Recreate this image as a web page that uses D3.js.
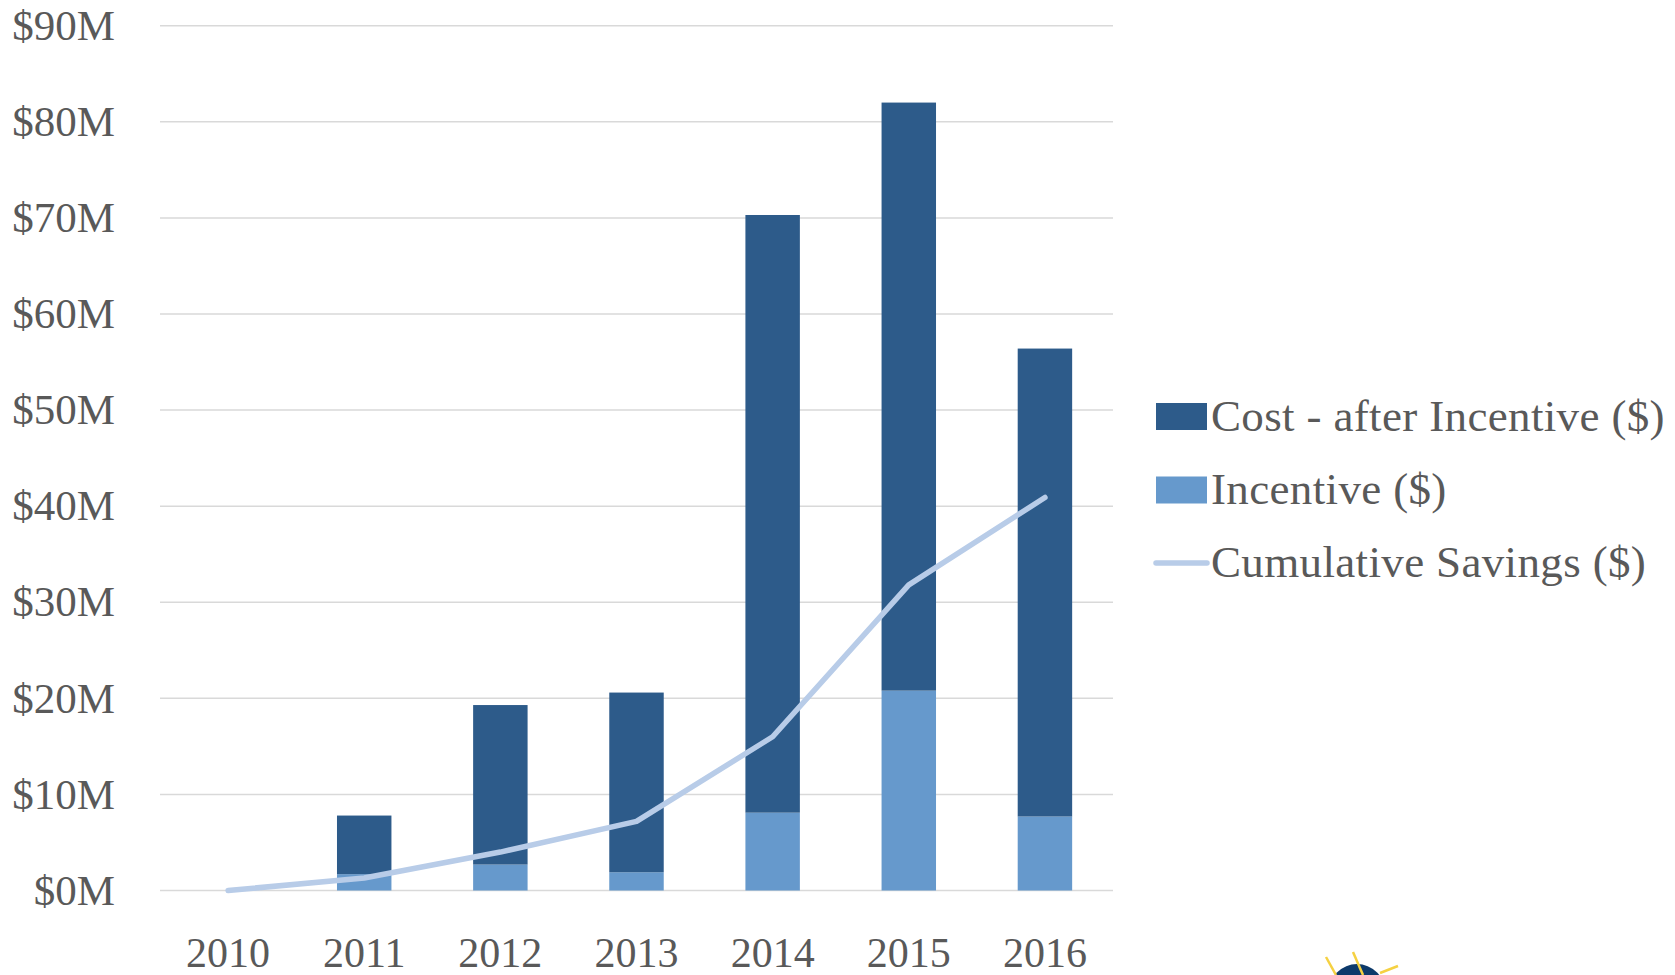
<!DOCTYPE html>
<html>
<head>
<meta charset="utf-8">
<script src="https://cdn.jsdelivr.net/npm/d3@7/dist/d3.min.js"></script>
<style>
  html, body { margin: 0; padding: 0; background: #ffffff; }
  svg { display: block; }
</style>
</head>
<body>
<svg id="chart" width="1675" height="975"></svg>
<script>
// ---- data (values in $M) ----
const years = ["2010", "2011", "2012", "2013", "2014", "2015", "2016"];
const incentive = [0, 1.7, 2.7, 1.9, 8.1, 20.8, 7.7];
const costAfterIncentive = [0, 6.1, 16.6, 18.7, 62.2, 61.2, 48.7];
const cumulativeSavings = [0, 1.3, 4.0, 7.2, 16.0, 31.8, 40.9];
const yTicks = [0, 10, 20, 30, 40, 50, 60, 70, 80, 90];
const seriesNames = ["Cost - after Incentive ($)", "Incentive ($)", "Cumulative Savings ($)"];

const colors = { cost: "#2D5B8A", incentive: "#6699CC", line: "#B8CCE8", grid: "#D9D9D9", text: "#595959" };
const font = "'Liberation Serif', 'Times New Roman', serif";

const svg = d3.select("#chart");
const plotLeft = 160, plotRight = 1113, plotTop = 25.7, plotBottom = 890.5;

const x = d3.scaleBand().domain(years).range([plotLeft, plotRight]).paddingInner(0.6).paddingOuter(0.3);
const xc = d => x(d) + x.bandwidth() / 2;
const y = d3.scaleLinear().domain([0, 90]).range([plotBottom, plotTop]);

// gridlines
svg.append("g").selectAll("line").data(yTicks).join("line")
  .attr("x1", plotLeft).attr("x2", plotRight)
  .attr("y1", d => y(d)).attr("y2", d => y(d))
  .attr("stroke", colors.grid).attr("stroke-width", 1.5);

// y axis labels
const yAxis = d3.axisLeft(y).tickValues(yTicks).tickFormat(d => "$" + d + "M").tickSize(0).tickPadding(0);
const yg = svg.append("g").attr("transform", `translate(115,0)`).call(yAxis);
yg.select(".domain").remove();
yg.selectAll("text").attr("font-family", font).attr("font-size", 43).attr("fill", colors.text).attr("dy", "0.32em");

// x axis labels
const xAxis = d3.axisBottom(x).tickSize(0).tickPadding(0);
const xg = svg.append("g").attr("transform", `translate(0,${plotBottom})`).call(xAxis);
xg.select(".domain").remove();
xg.selectAll("text").attr("font-family", font).attr("font-size", 42).attr("fill", colors.text)
  .attr("dy", null).attr("y", 76);

// stacked bars
const stackData = years.map((yr, i) => ({ year: yr, incentive: incentive[i], cost: costAfterIncentive[i] }));
const stack = d3.stack().keys(["incentive", "cost"])(stackData);
svg.append("g").selectAll("g").data(stack).join("g")
  .attr("fill", d => colors[d.key])
  .selectAll("rect").data(d => d).join("rect")
  .attr("x", d => x(d.data.year))
  .attr("width", x.bandwidth())
  .attr("y", d => y(d[1]))
  .attr("height", d => y(d[0]) - y(d[1]));

// cumulative line
const line = d3.line().x((d, i) => xc(years[i])).y(d => y(d));
svg.append("path").datum(cumulativeSavings)
  .attr("d", line).attr("fill", "none")
  .attr("stroke", colors.line).attr("stroke-width", 5.5)
  .attr("stroke-linejoin", "round").attr("stroke-linecap", "round");

// legend
const lg = svg.append("g").attr("font-family", font).attr("font-size", 45)
  .attr("letter-spacing", 0.35).attr("fill", colors.text);
const rows = [
  { name: seriesNames[0], type: "rect", color: colors.cost, cy: 416.5 },
  { name: seriesNames[1], type: "rect", color: colors.incentive, cy: 490 },
  { name: seriesNames[2], type: "line", color: colors.line, cy: 563 }
];
rows.forEach(r => {
  if (r.type === "rect") {
    lg.append("rect").attr("x", 1156).attr("y", r.cy - 13.5).attr("width", 51).attr("height", 27).attr("fill", r.color);
  } else {
    lg.append("line").attr("x1", 1156).attr("x2", 1207).attr("y1", r.cy).attr("y2", r.cy)
      .attr("stroke", r.color).attr("stroke-width", 5.5).attr("stroke-linecap", "round");
  }
  lg.append("text").attr("x", 1211).attr("y", r.cy + 14).text(r.name);
});

// partial logo ornament at the bottom edge
const logo = svg.append("g");
logo.append("circle").attr("cx", 1357).attr("cy", 992).attr("r", 28).attr("fill", "#0D3A6B");
[[1326, 957, 1336, 975], [1353, 952, 1363, 975], [1398, 966, 1380, 973]].forEach(s => {
  logo.append("line").attr("x1", s[0]).attr("y1", s[1]).attr("x2", s[2]).attr("y2", s[3])
    .attr("stroke", "#F5D142").attr("stroke-width", 2.5);
});
</script>
</body>
</html>
